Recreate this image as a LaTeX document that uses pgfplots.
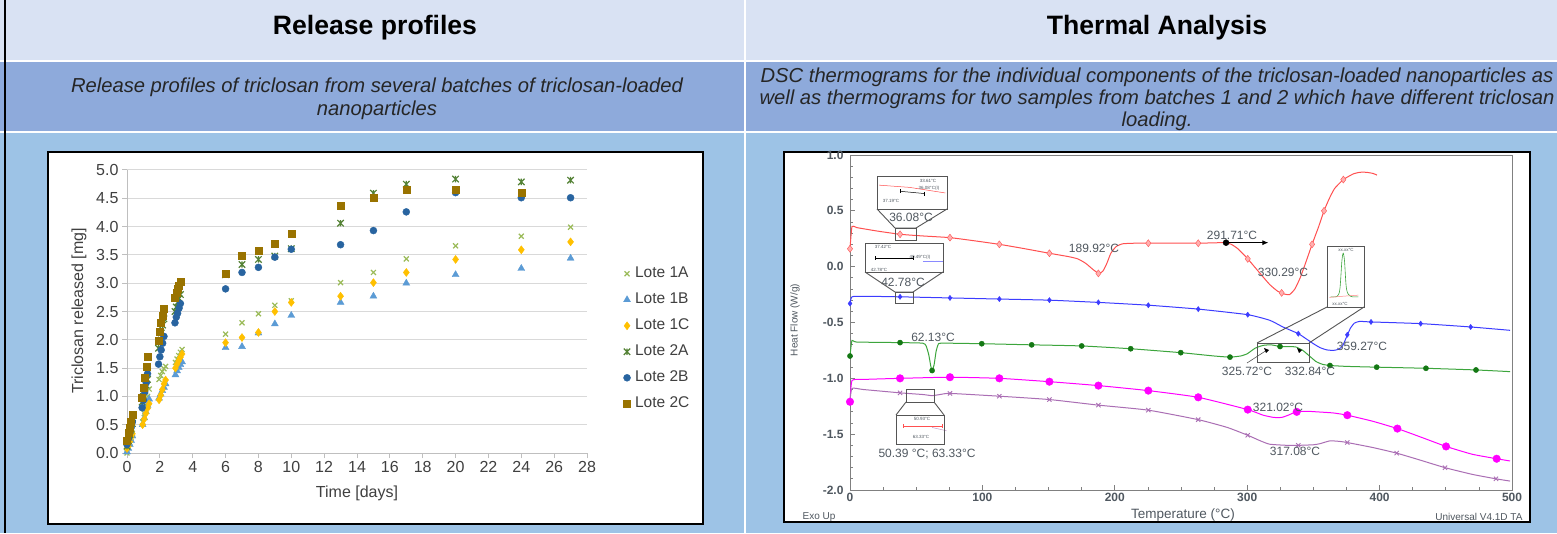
\documentclass[border=0pt]{standalone}
\usepackage{pgfplots}
\pgfplotsset{compat=1.18}
\usepackage{fontspec}
\setmainfont{Liberation Sans}
\usetikzlibrary{arrows.meta}
\definecolor{rowA}{RGB}{217,226,243}
\definecolor{rowB}{RGB}{142,170,219}
\definecolor{rowC}{RGB}{157,195,230}
\definecolor{c1A}{RGB}{155,187,89}
\definecolor{c1B}{RGB}{91,155,213}
\definecolor{c1C}{RGB}{255,192,0}
\definecolor{c2A}{RGB}{84,130,53}
\definecolor{c2B}{RGB}{40,100,160}
\definecolor{c2C}{RGB}{153,115,0}
\definecolor{gridgray}{RGB}{217,217,217}
\definecolor{axisgray}{RGB}{191,191,191}
\definecolor{ticktext}{RGB}{64,64,64}
\definecolor{dscred}{RGB}{255,80,80}
\definecolor{dscblue}{RGB}{60,60,255}
\definecolor{dscgreen}{RGB}{60,165,60}
\definecolor{dscgreenm}{RGB}{20,120,20}
\definecolor{dscmag}{RGB}{255,0,255}
\definecolor{dscpur}{RGB}{170,110,180}
\definecolor{dsctext}{RGB}{80,88,96}
\definecolor{dscaxis}{RGB}{128,128,128}
\definecolor{boxgray}{RGB}{85,85,85}
\pgfdeclareplotmark{xstar}{%
  \pgfpathmoveto{\pgfqpoint{-\pgfplotmarksize}{-\pgfplotmarksize}}%
  \pgfpathlineto{\pgfqpoint{\pgfplotmarksize}{\pgfplotmarksize}}%
  \pgfpathmoveto{\pgfqpoint{-\pgfplotmarksize}{\pgfplotmarksize}}%
  \pgfpathlineto{\pgfqpoint{\pgfplotmarksize}{-\pgfplotmarksize}}%
  \pgfpathmoveto{\pgfqpoint{0pt}{-\pgfplotmarksize}}%
  \pgfpathlineto{\pgfqpoint{0pt}{\pgfplotmarksize}}%
  \pgfusepathqstroke}
\newcommand{\fs}[1]{\fontsize{#1}{#1}\selectfont}
\begin{document}
\begin{tikzpicture}[x=1pt,y=1pt]
\useasboundingbox (0,0) rectangle (1557,533);
% table background
\fill[rowC] (0,0) rectangle (1557,400);
\fill[rowB] (0,402) rectangle (1557,471);
\fill[rowA] (0,473) rectangle (1557,533);
\fill[white] (0,400) rectangle (1557,402);
\fill[white] (0,471) rectangle (1557,473);
\fill[white] (744,0) rectangle (746,533);
\fill[black] (3.5,0) rectangle (5.5,533);
% titles
\node[anchor=base, font=\fs{26.6}\bfseries] at (375,498) {Release profiles};
\node[anchor=base, font=\fs{26.6}\bfseries] at (1157,498) {Thermal Analysis};
\node[align=center, font=\fontsize{20.2}{23}\selectfont\itshape, text=black!85] at (377,434)
  {Release profiles of triclosan from several batches of triclosan-loaded\\nanoparticles};
\node[align=center, font=\fontsize{20.2}{22}\selectfont\itshape, text=black!85] at (1157,434)
  {DSC thermograms for the individual components of the triclosan-loaded nanoparticles as\\well as thermograms for two samples from batches 1 and 2 which have different triclosan\\loading.};
% chart boxes
\draw[line width=1.5pt, fill=white] (48,381) rectangle (703,9);
\draw[line width=1.5pt, fill=white] (784,381) rectangle (1530,11);

% ---------------- Release profiles ----------------
\begin{axis}[
  at={(127pt,80pt)}, anchor=south west, scale only axis,
  width=460pt, height=283pt,
  xmin=0, xmax=28, ymin=0, ymax=5,
  axis lines*=left, axis line style={draw=axisgray, line width=1pt, -},
  xtick={0,2,...,28}, ytick={0,0.5,...,5},
  ymajorgrids, grid style={draw=gridgray, line width=1pt},
  tick align=outside, major tick length=5pt,
  every tick/.style={draw=axisgray, line width=1pt},
  tick label style={font=\fs{16}, text=ticktext},
  /pgf/number format/assume math mode=true,
  yticklabel style={/pgf/number format/.cd, fixed, fixed zerofill, precision=1},
  xticklabel style={/pgf/number format/.cd, fixed, precision=0},
  clip=false,
  legend cell align=left,
  legend style={at={(1.079,0.664)}, anchor=north west, draw=none, fill=none,
    font=\fs{15.5}, text=ticktext, row sep=9pt, inner sep=0pt, column sep=3pt,
    nodes={inner sep=1.5pt, text height=11pt, text depth=3pt}},
]
\addplot[only marks, mark=x, mark size=3.5pt, c1A, line width=1.2pt] coordinates {
(0,0.0)(0.08,0.10)(0.17,0.18)(0.25,0.27)(0.33,0.35)
(0.95,0.55)(1.05,0.70)(1.15,0.85)(1.25,1.00)(1.35,1.13)
(1.95,1.30)(2.05,1.37)(2.15,1.44)(2.25,1.49)(2.35,1.53)
(2.95,1.60)(3.05,1.66)(3.15,1.72)(3.25,1.78)(3.35,1.83)
(6,2.10)(7,2.30)(8,2.46)(9,2.61)(10,2.69)(13,3.01)(15,3.19)(17,3.43)(20,3.66)(24,3.83)(27,3.99)};
\addlegendentry{Lote 1A}
\addplot[only marks, mark=triangle*, mark size=4pt, c1B] coordinates {
(0,0.02)(0.08,0.08)(0.17,0.15)(0.25,0.22)(0.33,0.30)
(0.95,0.50)(1.05,0.62)(1.15,0.73)(1.25,0.84)(1.35,0.95)
(1.95,0.97)(2.05,1.04)(2.15,1.10)(2.25,1.16)(2.35,1.22)
(2.95,1.38)(3.05,1.45)(3.15,1.51)(3.25,1.56)(3.35,1.61)
(6,1.86)(7,1.88)(8,2.12)(9,2.28)(10,2.43)(13,2.66)(15,2.77)(17,3.00)(20,3.15)(24,3.26)(27,3.44)};
\addlegendentry{Lote 1B}
\addplot[only marks, mark=diamond*, mark size=4pt, c1C] coordinates {
(0,0.08)(0.08,0.12)(0.17,0.20)(0.25,0.28)(0.33,0.34)
(0.95,0.50)(1.05,0.60)(1.15,0.70)(1.25,0.79)(1.35,0.87)
(1.95,0.94)(2.05,1.02)(2.15,1.12)(2.25,1.22)(2.35,1.29)
(2.95,1.50)(3.05,1.57)(3.15,1.63)(3.25,1.69)(3.35,1.75)
(6,1.95)(7,2.04)(8,2.13)(9,2.50)(10,2.66)(13,2.77)(15,3.01)(17,3.19)(20,3.42)(24,3.59)(27,3.73)};
\addlegendentry{Lote 1C}
\addplot[only marks, mark=xstar, mark size=3.2pt, c2A, line width=1.2pt] coordinates {
(0,0.12)(0.08,0.22)(0.17,0.32)(0.25,0.42)(0.33,0.52)
(0.92,0.90)(1.0,1.00)(1.08,1.10)(1.17,1.20)(1.25,1.30)
(1.92,1.85)(2.0,1.98)(2.08,2.12)(2.17,2.26)(2.25,2.37)
(2.92,2.50)(3.0,2.58)(3.08,2.66)(3.17,2.73)(3.25,2.80)
(6,3.15)(7,3.33)(8,3.42)(9,3.48)(10,3.61)(13,4.06)(15,4.59)(17,4.75)(20,4.84)(24,4.79)(27,4.82)};
\addlegendentry{Lote 2A}
\addplot[only marks, mark=*, mark size=3.5pt, c2B] coordinates {
(0,0.15)(0.08,0.25)(0.17,0.35)(0.25,0.45)(0.33,0.55)
(0.92,0.80)(1.0,0.93)(1.08,1.08)(1.17,1.24)(1.25,1.40)
(1.92,1.57)(2.0,1.70)(2.08,1.82)(2.17,1.94)(2.25,2.06)
(2.92,2.30)(3.0,2.40)(3.08,2.47)(3.17,2.56)(3.25,2.64)
(6,2.90)(7,3.19)(8,3.28)(9,3.46)(10,3.60)(13,3.68)(15,3.93)(17,4.26)(20,4.60)(24,4.51)(27,4.51)};
\addlegendentry{Lote 2B}
\addplot[only marks, mark=square*, mark size=3.5pt, c2C] coordinates {
(0,0.22)(0.08,0.35)(0.17,0.45)(0.25,0.56)(0.33,0.68)
(0.92,0.97)(1.0,1.15)(1.08,1.33)(1.17,1.52)(1.25,1.70)
(1.92,1.98)(2.0,2.15)(2.08,2.30)(2.17,2.42)(2.25,2.55)
(2.92,2.75)(3.0,2.83)(3.08,2.90)(3.17,2.96)(3.25,3.02)
(6,3.17)(7,3.48)(8,3.57)(9,3.69)(10,3.88)(13,4.37)(15,4.51)(17,4.66)(20,4.66)(24,4.60)};
\addlegendentry{Lote 2C}
\end{axis}
\node[rotate=90, font=\fs{16}, text=ticktext] at (79,222) {Triclosan released [mg]};
\node[font=\fs{16}, text=ticktext] at (357,40) {Time [days]};

% ---------------- DSC ----------------
\begin{axis}[
  at={(850pt,43pt)}, anchor=south west, scale only axis,
  width=662pt, height=335pt,
  xmin=0, xmax=500, ymin=-2, ymax=1,
  axis line style={draw=dscaxis, line width=0.8pt},
  xtick={0,100,...,500}, ytick={-2,-1.5,...,1},
  minor x tick num=3, minor y tick num=4,
  tick pos=left, tick align=inside,
  major tick length=5pt, minor tick length=3pt,
  every tick/.style={draw=dscaxis, line width=0.8pt},
  tick label style={font=\fs{12}\bfseries, text=dsctext},
  /pgf/number format/assume math mode=true,
  yticklabel style={/pgf/number format/.cd, fixed, fixed zerofill, precision=1, /tikz/xshift=-3pt},
  xticklabel style={/pgf/number format/.cd, fixed, precision=0},
  clip=false,
]
% red
\addplot[dscred, line width=1pt, smooth, tension=0.3] coordinates {
(0,0.16)(1.5,0.36)(5,0.35)(20,0.32)(37.8,0.29)(55,0.275)(75.5,0.26)(95,0.23)(112.8,0.20)(130,0.165)
(150.6,0.12)(165,0.09)(172,0.07)(178,0.03)(184,-0.03)(188,-0.06)(191,-0.04)(194,0.03)(197,0.12)(201,0.18)
(206,0.205)(215,0.21)(226,0.21)(245,0.21)(263,0.21)(280,0.215)(284,0.215)(288,0.20)(293,0.16)(300.4,0.07)
(309.7,-0.06)(317,-0.16)(323,-0.22)(328,-0.245)(332,-0.25)(336,-0.20)(340,-0.10)(344,0.03)(349,0.20)
(354,0.36)(358,0.50)(362,0.61)(366,0.70)(372.6,0.78)(380,0.83)(385,0.845)(390,0.845)(395,0.835)(398,0.82)};
\addplot[only marks, mark=diamond*, mark size=3.5pt, draw=dscred, fill=dscred!45] coordinates {
(0,0.16)(37.8,0.29)(75.5,0.26)(112.8,0.20)(150.6,0.12)(187.6,-0.06)(225.3,0.21)(263,0.21)
(300.4,0.07)(326,-0.235)(349,0.20)(358,0.50)(372.6,0.78)};
\addplot[only marks, mark=*, mark size=3pt, black] coordinates {(284,0.215)};
\draw[-{Latex[length=6pt,width=5pt]}, black, line width=0.8pt] (axis cs:284,0.215) -- (axis cs:316,0.215);
% blue
\addplot[dscblue, line width=1pt, smooth, tension=0.3] coordinates {
(0,-0.33)(1.5,-0.27)(10,-0.265)(37.8,-0.27)(75.5,-0.28)(112.8,-0.29)(150.6,-0.30)(187.6,-0.32)
(225.3,-0.345)(263,-0.38)(300.4,-0.43)(317,-0.48)(327,-0.54)(338.6,-0.60)(345,-0.65)(350,-0.69)
(355,-0.725)(360,-0.745)(365,-0.75)(369,-0.74)(372,-0.71)(375,-0.63)(378,-0.55)(381,-0.505)(385,-0.49)
(393.5,-0.495)(431,-0.51)(468.8,-0.54)(498.5,-0.57)};
\addplot[only marks, mark=diamond*, mark size=2.6pt, dscblue] coordinates {
(0,-0.33)(37.8,-0.27)(75.5,-0.28)(112.8,-0.29)(150.6,-0.30)(187.6,-0.32)(225.3,-0.345)(263,-0.38)
(300.4,-0.43)(338.6,-0.60)(375.6,-0.61)(393.5,-0.495)(431,-0.51)(468.8,-0.54)};
% green
\addplot[dscgreen, line width=1pt, smooth, tension=0.3] coordinates {
(0,-0.80)(1.5,-0.66)(5,-0.675)(37.8,-0.68)(55,-0.685)(57.5,-0.71)(59.5,-0.79)(61,-0.89)(62,-0.93)
(63.5,-0.88)(65,-0.76)(66.5,-0.70)(69,-0.685)(99.5,-0.69)(137.2,-0.70)(175,-0.71)(212,-0.735)
(249.8,-0.77)(275,-0.80)(287,-0.81)(295,-0.80)(300,-0.78)(306,-0.73)(312,-0.705)(318,-0.70)
(325,-0.715)(332,-0.715)(337,-0.72)(342,-0.75)(347,-0.80)(352,-0.85)(357,-0.875)(362.5,-0.885)
(375,-0.893)(397.8,-0.90)(435,-0.91)(472.8,-0.925)(498.5,-0.94)};
\addplot[only marks, mark=*, mark size=2.6pt, dscgreenm] coordinates {
(0,-0.80)(37.8,-0.68)(62,-0.93)(99.5,-0.69)(137.2,-0.70)(175,-0.71)(212,-0.735)(249.8,-0.77)
(287,-0.81)(324.8,-0.715)(362.5,-0.885)(397.8,-0.90)(435,-0.91)(472.8,-0.925)};
% magenta
\addplot[dscmag, line width=1pt, smooth, tension=0.3] coordinates {
(0,-1.21)(1.5,-1.02)(10,-1.01)(37.8,-1.00)(75.5,-0.99)(112.8,-1.00)(150.6,-1.03)(187.6,-1.065)
(225.3,-1.11)(263,-1.17)(300.4,-1.28)(312,-1.33)(320,-1.35)(326,-1.35)(331,-1.33)(337,-1.30)
(345,-1.295)(352.5,-1.30)(365,-1.31)(375.6,-1.33)(395,-1.385)(413.4,-1.45)(432,-1.53)(450.2,-1.61)
(470,-1.68)(488.4,-1.72)(498.5,-1.74)};
\addplot[only marks, mark=*, mark size=3.8pt, dscmag] coordinates {
(0,-1.21)(37.8,-1.00)(75.5,-0.99)(112.8,-1.00)(150.6,-1.03)(187.6,-1.065)(225.3,-1.11)(263,-1.17)
(300.4,-1.28)(337.4,-1.30)(375.6,-1.33)(413.4,-1.45)(450.2,-1.61)(488.4,-1.72)};
% purple
\addplot[dscpur, line width=1pt, smooth, tension=0.3] coordinates {
(0,-1.20)(1.5,-1.09)(10,-1.10)(37.8,-1.13)(55,-1.145)(62,-1.155)(68,-1.145)(75.5,-1.135)
(112.8,-1.16)(150.6,-1.19)(187.6,-1.24)(225.3,-1.285)(263,-1.37)(285,-1.44)(300.4,-1.51)(310,-1.56)
(317,-1.59)(330,-1.60)(338.6,-1.60)(350,-1.595)(355,-1.585)(362.5,-1.56)(370,-1.565)(375.6,-1.575)
(395,-1.62)(412.9,-1.67)(430,-1.73)(449.4,-1.80)(470,-1.86)(487.9,-1.90)(498.5,-1.92)};
\addplot[only marks, mark=x, mark size=3pt, dscpur, line width=0.9pt] coordinates {
(37.8,-1.13)(75.5,-1.135)(112.8,-1.16)(150.6,-1.19)(187.6,-1.24)(225.3,-1.285)(263,-1.37)
(300.4,-1.51)(338.6,-1.60)(375.6,-1.575)(412.9,-1.67)(449.4,-1.80)(487.9,-1.90)};
% inset mini curves
\addplot[dscred, line width=0.5pt] coordinates {(22,0.73)(45,0.71)(72,0.66)};
\addplot[black, line width=0.5pt, mark=|, mark size=2pt] coordinates {(38,0.675)(56,0.655)};
\addplot[black, line width=0.5pt, mark=|, mark size=2pt] coordinates {(19,0.075)(48,0.075)};
\addplot[dscblue!60, line width=0.4pt] coordinates {(55,0.045)(70,0.045)};
\addplot[dscgreen, line width=0.6pt, smooth] coordinates {(363,-0.27)(368,-0.265)(370,-0.2)(371.5,0.05)(372.5,0.12)(373.5,0.05)(375,-0.2)(378,-0.265)(384,-0.27)};
\addplot[dscred!70, line width=0.5pt] coordinates {(362,-0.275)(372,-0.265)(384,-0.255)};
\addplot[dscred, line width=0.5pt, mark=|, mark size=2pt] coordinates {(40,-1.43)(70,-1.43)};
\addplot[dscpur!70, line width=0.5pt] coordinates {(62,-1.44)(73,-1.47)};
\end{axis}
% DSC labels
\begin{scope}[every node/.style={font=\fs{12}, text=dsctext}]
\node at (911,316) {36.08°C};
\node at (903,251) {42.78°C};
\node at (1094,285) {189.92°C};
\node at (1232,298) {291.71°C};
\node at (1283,261) {330.29°C};
\node at (1362,187) {359.27°C};
\node at (933,196) {62.13°C};
\node at (1247,162) {325.72°C};
\node at (1310,162) {332.84°C};
\node at (1278,126) {321.02°C};
\node at (1295,82) {317.08°C};
\node at (927,79) {50.39 °C; 63.33°C};
\end{scope}
\begin{scope}[every node/.style={font=\fs{4.5}, text=dsctext, inner sep=0pt}]
\node at (928,352) {33.61°C};
\node at (929,345) {36.08°C(I)};
\node at (891,332) {37.19°C};
\node at (883,286) {37.42°C};
\node at (920,276) {40.49°C(I)};
\node at (879,263) {42.78°C};
\node at (1346,283) {xx.xx°C};
\node at (1340,229) {xx.xx°C};
\node at (922,114) {50.93°C};
\node at (921,96) {63.33°C};
\end{scope}
% inset boxes
\begin{scope}[draw=boxgray, line width=0.9pt]
\draw (877,357) rectangle (947,324);
\draw (877,324) -- (895,305) -- (916,305) -- (947,324);
\draw (895,305) rectangle (916,293);
\draw (865,290) rectangle (943,261);
\draw (865,261) -- (895,241) -- (913,241) -- (943,261);
\draw (895,241) rectangle (913,230);
\draw (1257,190) rectangle (1309,171);
\draw (1257,190) -- (1327,226);
\draw (1309,190) -- (1364,226);
\draw (1327,287) rectangle (1364,226);
\draw (906,144) rectangle (934,131);
\draw (906,131) -- (896,118);
\draw (934,131) -- (944,118);
\draw (896,118) rectangle (944,89);
\draw[line width=0.6pt] (1247,170) -- (1267,183);
\end{scope}
\fill[black] (1269,183) -- (1264,185) -- (1266,180) -- cycle;
\fill[black] (1302,183) -- (1297,185) -- (1299,180) -- cycle;
% DSC axis texts
\node[rotate=90, font=\fs{10}, text=dsctext] at (795,213) {Heat Flow (W/g)};
\node[font=\fs{13.5}, text=dsctext] at (1183,18) {Temperature (°C)};
\node[font=\fs{10}, text=dsctext] at (819,16) {Exo Up};
\node[anchor=east, font=\fs{10}, text=dsctext] at (1526,16) {Universal V4.1D TA};
\end{tikzpicture}
\end{document}
